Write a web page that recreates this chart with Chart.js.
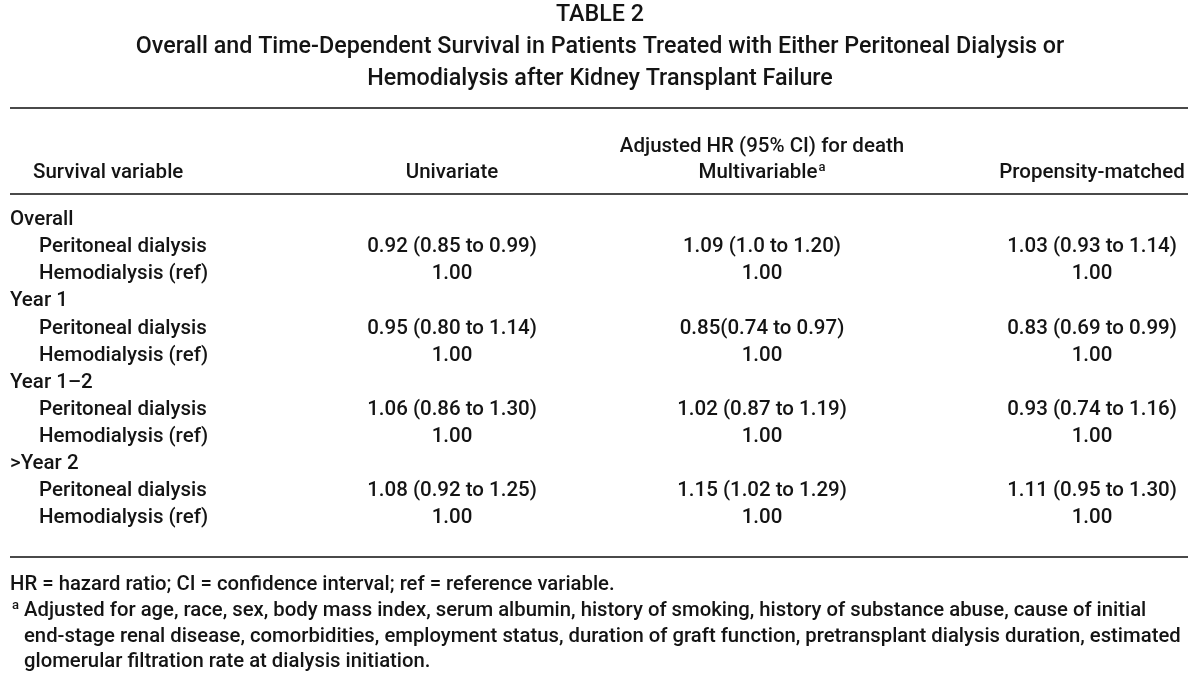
<!DOCTYPE html>
<html lang="en">
<head>
    <meta charset="UTF-8">
    <title>Table 2</title>
    <script src="https://cdn.jsdelivr.net/npm/chart.js"></script>
    <style>
        body { margin: 0; background: #fff; }
    </style>
</head>
<body>
<canvas id="tableChart" width="1200" height="690"></canvas>

<script>
    // Table content
    var titleLines = [
        'TABLE 2',
        'Overall and Time-Dependent Survival in Patients Treated with Either Peritoneal Dialysis or',
        'Hemodialysis after Kidney Transplant Failure'
    ];
    var spannerLabel = 'Adjusted HR (95% CI) for death';
    var columnLabels = ['Survival variable', 'Univariate', 'Multivariable', 'Propensity-matched'];
    var periods = ['Overall', 'Year 1', 'Year 1\u20132', '>Year 2'];
    var treatments = ['Peritoneal dialysis', 'Hemodialysis (ref)'];
    var univariate = ['0.92 (0.85 to 0.99)', '0.95 (0.80 to 1.14)', '1.06 (0.86 to 1.30)', '1.08 (0.92 to 1.25)'];
    var multivariable = ['1.09 (1.0 to 1.20)', '0.85(0.74 to 0.97)', '1.02 (0.87 to 1.19)', '1.15 (1.02 to 1.29)'];
    var propensity = ['1.03 (0.93 to 1.14)', '0.83 (0.69 to 0.99)', '0.93 (0.74 to 1.16)', '1.11 (0.95 to 1.30)'];
    var referenceValue = '1.00';
    var footnotes = [
        'HR = hazard ratio; CI = confidence interval; ref = reference variable.',
        'Adjusted for age, race, sex, body mass index, serum albumin, history of smoking, history of substance abuse, cause of initial',
        'end-stage renal disease, comorbidities, employment status, duration of graft function, pretransplant dialysis duration, estimated',
        'glomerular filtration rate at dialysis initiation.'
    ];

    // Layout (scale units = pixels of the 1200x690 page)
    var layout = {
        groupX: 10, indentX: 39, headX: 33,
        colX: [0, 452, 762, 1092],
        ruleLeft: 10, ruleRight: 1188,
        titleY: [15, 47, 79],
        rule1: 108, spannerY: 147, headY: 173, rule2: 194,
        firstRowY: 220, rowStep: 27.1,
        rule3: 557, noteY: [585, 611, 637, 662], noteX: 10, noteIndent: 24
    };
    var family = '"Roboto", "DejaVu Sans Condensed", sans-serif';
    var bodyFont = '500 20.5px ' + family;
    var noteFont = '500 20.3px ' + family;
    var titleFont = '500 23.3px ' + family;
    var supFont = '500 13px ' + family;
    var ink = '#141414';

    // Build the table rows
    var rows = [];
    periods.forEach(function (p, i) {
        rows.push({ label: p, indent: false, values: ['', '', ''] });
        rows.push({ label: treatments[0], indent: true, values: [univariate[i], multivariable[i], propensity[i]] });
        rows.push({ label: treatments[1], indent: true, values: [referenceValue, referenceValue, referenceValue] });
    });

    function rowY(i) { return layout.firstRowY + i * layout.rowStep; }

    var datasets = [{
        label: columnLabels[0],
        textAlign: 'left',
        data: rows.map(function (r, i) {
            return { x: r.indent ? layout.indentX : layout.groupX, y: rowY(i), text: r.label };
        })
    }];
    for (var c = 0; c < 3; c++) {
        datasets.push({
            label: columnLabels[c + 1],
            textAlign: 'center',
            data: rows.map(function (r, i) {
                return { x: layout.colX[c + 1], y: rowY(i), text: r.values[c] };
            })
        });
    }
    datasets.forEach(function (d) { d.pointRadius = 0; d.pointHoverRadius = 0; });

    // Plugin that writes the cell text and the table furniture
    var tablePlugin = {
        id: 'tableText',
        afterDatasetsDraw: function (chart) {
            var ctx = chart.ctx;
            var xs = chart.scales.x, ys = chart.scales.y;
            var X = function (v) { return xs.getPixelForValue(v); };
            var Y = function (v) { return ys.getPixelForValue(v); };
            ctx.save();
            ctx.fillStyle = ink;
            ctx.textBaseline = 'middle';

            // cells
            chart.data.datasets.forEach(function (ds, di) {
                var meta = chart.getDatasetMeta(di);
                ctx.font = bodyFont;
                ctx.textAlign = ds.textAlign;
                meta.data.forEach(function (el, j) {
                    var t = ds.data[j].text;
                    if (t) ctx.fillText(t, el.x, el.y);
                });
            });

            // title
            ctx.textAlign = 'center';
            ctx.font = titleFont;
            titleLines.forEach(function (t, i) {
                ctx.fillText(t, X(600), Y(layout.titleY[i]));
            });

            // column headers
            ctx.font = bodyFont;
            ctx.fillText(spannerLabel, X(layout.colX[2]), Y(layout.spannerY));
            ctx.textAlign = 'left';
            ctx.fillText(columnLabels[0], X(layout.headX), Y(layout.headY));
            ctx.textAlign = 'center';
            ctx.fillText(columnLabels[1], X(layout.colX[1]), Y(layout.headY));
            ctx.fillText(columnLabels[3], X(layout.colX[3]), Y(layout.headY));
            // Multivariable with superscript a
            var w = ctx.measureText(columnLabels[2]).width;
            ctx.font = supFont;
            var ws = ctx.measureText('a').width;
            var left = X(layout.colX[2]) - (w + ws + 1) / 2;
            ctx.textAlign = 'left';
            ctx.fillText('a', left + w + 1, Y(layout.headY - 5));
            ctx.font = bodyFont;
            ctx.fillText(columnLabels[2], left, Y(layout.headY));

            // rules
            ctx.strokeStyle = '#4a4a4a';
            ctx.lineWidth = 2;
            [layout.rule1, layout.rule2, layout.rule3].forEach(function (r) {
                ctx.beginPath();
                ctx.moveTo(X(layout.ruleLeft), Y(r));
                ctx.lineTo(X(layout.ruleRight), Y(r));
                ctx.stroke();
            });

            // footnotes
            ctx.textAlign = 'left';
            footnotes.forEach(function (t, i) {
                var x = i === 0 ? layout.noteX : layout.noteIndent;
                ctx.font = noteFont;
                ctx.fillText(t, X(x), Y(layout.noteY[i]));
            });
            ctx.font = supFont;
            ctx.fillText('a', X(layout.noteX + 2), Y(layout.noteY[1] - 5));
            ctx.restore();
        }
    };

    var ctx = document.getElementById('tableChart').getContext('2d');
    var tableChart = new Chart(ctx, {
        type: 'scatter',
        data: { datasets: datasets },
        options: {
            responsive: false,
            animation: false,
            devicePixelRatio: 1,
            layout: { padding: 0 },
            plugins: { legend: { display: false }, tooltip: { enabled: false } },
            scales: {
                x: { type: 'linear', min: 0, max: 1200, display: false },
                y: { type: 'linear', min: 0, max: 690, reverse: true, display: false }
            }
        },
        plugins: [tablePlugin]
    });
</script>
</body>
</html>
